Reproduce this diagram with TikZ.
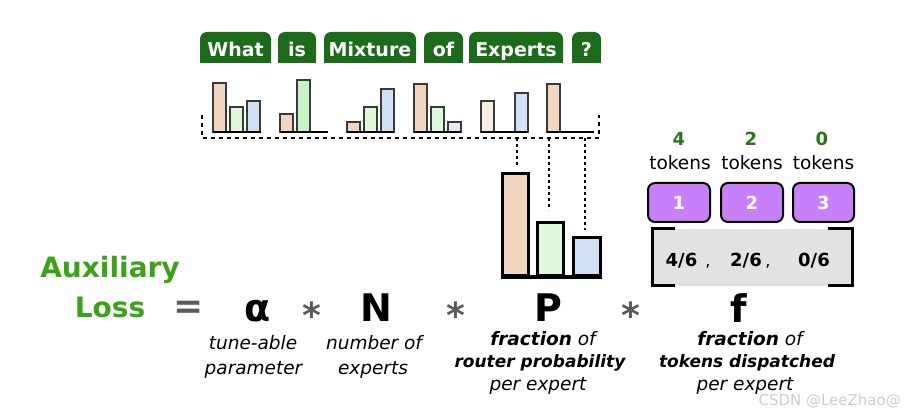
\documentclass[tikz,border=0pt]{standalone}
\usepackage{fontspec}
\setmainfont{DejaVu Sans}[BoldFont={DejaVu Sans Bold},ItalicFont={DejaVu Sans Oblique},BoldItalicFont={DejaVu Sans Bold Oblique}]
\usetikzlibrary{calc}
\definecolor{tokgreen}{RGB}{27,107,27}
\definecolor{numgreen}{RGB}{40,120,25}
\definecolor{auxgreen}{RGB}{58,163,24}
\definecolor{orf}{RGB}{242,214,192}
\definecolor{orpale}{RGB}{250,237,226}
\definecolor{grf}{RGB}{224,247,220}
\definecolor{grsat}{RGB}{201,243,198}
\definecolor{blf}{RGB}{208,224,245}
\definecolor{blpale}{RGB}{227,235,251}
\definecolor{purp}{RGB}{199,128,250}
\definecolor{grbox}{RGB}{226,226,226}
\definecolor{opgray}{RGB}{90,90,90}
\definecolor{barline}{RGB}{58,58,58}
\newcommand\fsz[1]{\fontsize{#1}{#1}\selectfont}
\newcommand\mbar[3]{\draw[sbar, fill=#3] (#1,132) rectangle ({#1+13},#2);}
\tikzset{
  tokw/.style={text=white, font=\bfseries\fsz{19}, inner sep=0pt, anchor=base},
  sbar/.style={draw=barline, line width=1.5pt},
  sbase/.style={draw=black, line width=2pt},
  brk/.style={draw=black, line width=2pt, dash pattern=on 4pt off 4pt},
  dotc/.style={draw=black, line width=2pt, dash pattern=on 3pt off 3pt},
  bigbar/.style={draw=black, line width=3pt, inner sep=0pt, anchor=south west},
  numg/.style={text=numgreen, font=\bfseries\fsz{18}, inner sep=0pt, anchor=base},
  tokf/.style={font=\fsz{18.5}, inner sep=0pt, anchor=base},
  pbox/.style={draw=black, line width=2pt, fill=purp, rounded corners=7pt, text=white, font=\bfseries\fsz{18}, inner sep=0pt},
  fracf/.style={font=\bfseries\fsz{18}, inner sep=0pt, anchor=base},
  commaf/.style={font=\fsz{16}, inner sep=0pt, anchor=base},
  auxf/.style={text=auxgreen, font=\bfseries\fsz{28}, inner sep=0pt, anchor=base},
  opf/.style={text=opgray, font=\bfseries\fsz{36}, inner sep=0pt},
  bigf/.style={font=\bfseries\fsz{38}, inner sep=0pt, anchor=base},
  it/.style={font=\itshape\fsz{18.5}, inner sep=0pt, anchor=base},
  bit/.style={font=\bfseries\itshape\fsz{17}, inner sep=0pt, anchor=base},
  wm/.style={text=black!20, font=\fsz{15}, inner sep=0pt, anchor=base east}
}
\begin{document}
\begin{tikzpicture}[x=1pt,y=-1pt]
\useasboundingbox[fill=white] (0,0) rectangle (906,414);
% token tabs
\foreach \xa/\xb in {200/271, 278/316, 324/416, 424/463, 469/563, 572/601}{
  \fill[tokgreen, rounded corners=7pt] (\xa,32) rectangle (\xb,63);
  \fill[tokgreen] (\xa,50) rectangle (\xb,63);
}
\node[tokw] (t1) at (235.5,57) {What};
\node[tokw] (t2) at (297,57) {is};
\node[tokw] (t3) at (370,57) {Mixture};
\node[tokw] (t4) at (443.5,57) {of};
\node[tokw] (t5) at (516,57) {Experts};
\node[tokw] (t6) at (586.5,57) {?};
% small bar groups
\mbar{213}{83}{orf}\mbar{230}{107}{grf}\mbar{247}{101}{blf}
\draw[sbase] (213,132) -- (261,132);
\mbar{280}{114}{orf}\mbar{297}{80}{grsat}
\draw[sbase] (280,132) -- (328,132);
\mbar{347}{122}{orf}\mbar{364}{107}{grf}\mbar{381}{89}{blf}
\draw[sbase] (347,132) -- (394,132);
\mbar{414}{84}{orf}\mbar{431}{107}{grf}\mbar{448}{122}{blpale}
\draw[sbase] (414,132) -- (461,132);
\mbar{481}{101}{orpale}\mbar{515}{93}{blf}
\draw[sbase] (481,132) -- (528,132);
\mbar{547}{84}{orf}
\draw[sbase] (547,132) -- (594,132);
% dashed bracket
\draw[brk] (202,115) -- (202,138) -- (599,138) -- (599,115);
\coordinate (d1) at (517,138);
\coordinate (d2) at (549,138);
\coordinate (d3) at (585,138);
% big bars
\node[bigbar, fill=orf, minimum width=26pt, minimum height=102pt] (pb1) at (501,277) {};
\node[bigbar, fill=grf, minimum width=26pt, minimum height=53pt] (pb2) at (536,277) {};
\node[bigbar, fill=blf, minimum width=27pt, minimum height=38pt] (pb3) at (572,277) {};
\draw[line width=4.5pt] (pb1.south west) -- (pb3.south east);
\draw[dotc] (d1) -- ($(d1 |- pb1.north)+(0,-6)$);
\draw[dotc] (d2) -- ($(d2 |- pb2.north)+(0,-11)$);
\draw[dotc] (d3) -- ($(d3 |- pb3.north)+(0,-6)$);
% right side
\node[numg] (n1) at (679,146) {4};
\node[numg] (n2) at (751,146) {2};
\node[numg] (n3) at (822,146) {0};
\node[tokf] (k1) at (680,170) {tokens};
\node[tokf] (k2) at (752,170) {tokens};
\node[tokf] (k3) at (823.5,170) {tokens};
\node[pbox, minimum width=62pt, minimum height=39pt] (e1) at (679,202.5) {1};
\node[pbox, minimum width=62pt, minimum height=39pt] (e2) at (752,202.5) {2};
\node[pbox, minimum width=61pt, minimum height=39pt] (e3) at (823.5,202.5) {3};
\fill[grbox] (652,229) rectangle (852,286);
\draw[line width=3pt] (675,229) -- (652,229) -- (652,286) -- (675,286);
\draw[line width=3pt] (828,229) -- (852,229) -- (852,286) -- (828,286);
\node[fracf] (f1) at (681.5,267) {4/6};
\node[commaf] (c1) at (708,267) {,};
\node[fracf] (f2) at (746,267) {2/6};
\node[commaf] (c2) at (768,267) {,};
\node[fracf] (f3) at (814,267) {0/6};
% formula
\node[auxf] (aux1) at (110,278) {Auxiliary};
\node[auxf] (aux2) at (110,318) {Loss};
\node[opf] (eq) at (188.5,309.5) {=};
\node[bigf] (alpha) at (258,322) {α};
\node[it] (a1) at (253,349) {tune-able};
\node[it] (a2) at (253.5,374) {parameter};
\node[opf] (s1) at (312,315) {*};
\node[bigf] (nn) at (376,322) {N};
\node[it] (b1) at (374,349) {number of};
\node[it] (b2) at (373,374) {experts};
\node[opf] (s2) at (456,315) {*};
\node[bigf] (pp) at (548,322) {P};
\node[it] (p1) at (543,345) {\textbf{fraction} of};
\node[bit] (p2) at (540,368) {router probability};
\node[it] (p3) at (538,391) {per expert};
\node[opf] (s3) at (631,315) {*};
\node[bigf] (ff) at (739,323) {f};
\node[it] (q1) at (750,345) {\textbf{fraction} of};
\node[bit] (q2) at (747,368) {tokens dispatched};
\node[it] (q3) at (745,391) {per expert};
\node[wm] (wmk) at (901,406) {CSDN @LeeZhao@};
\end{tikzpicture}
\end{document}
